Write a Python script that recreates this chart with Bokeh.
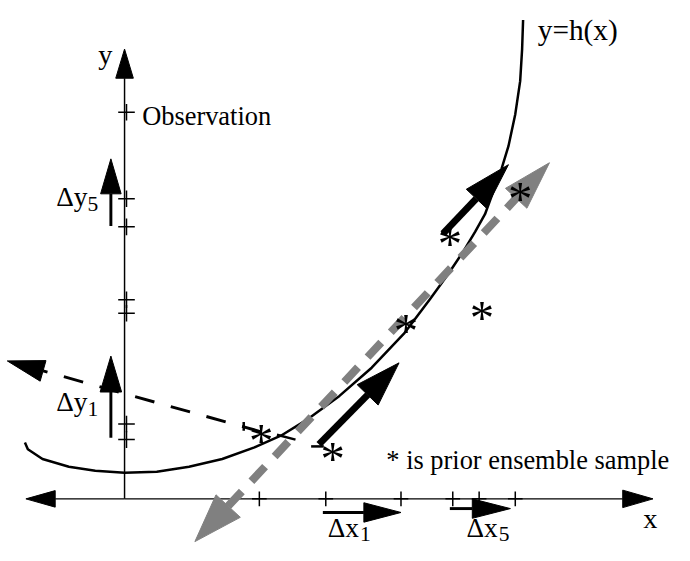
import math
from bokeh.plotting import figure
from bokeh.models import Range1d
from bokeh.core.properties import value
from bokeh.embed import file_html
from bokeh.resources import INLINE

# ---- data (origin at the axes crossing, 1 unit = 1 pixel of the reference) ----
# the curve y = h(x)
curve_x = [-102, -99, -84, -57, -30, 0, 33, 66, 100, 133, 160, 186, 220, 253, 286,
           313, 331, 347, 359, 369, 377, 386, 393, 400, 405, 407, 408]
curve_y = [58, 51, 41, 33, 29, 27, 28, 33, 41, 53, 65, 81, 106, 135, 170,
           206, 231, 255, 275, 293, 315, 340, 363, 396, 430, 463, 493]

# prior ensemble samples (asterisks)
ens_x = [140, 213, 288, 366, 405, 333]
ens_y = [83, 65, 196, 210, 332, 286]

# tick marks ("+") on the axes
xtick_pos = [138, 206, 283, 336, 363, 400]
ytick_pos = [398, 309, 280, 205, 191, 77, 61]

# short marks at the ends of the ensemble lines
mark_x0 = [122, 156, 191]
mark_y0 = [79, 66, 54]
mark_x1 = [122, 175, 204]
mark_y1 = [70, 61, 54]

# axis extents
x_axis_left, x_axis_right = -101, 541
y_axis_top = 463

# arrows: tail -> tip
arrowA_tail, arrowA_tip = (199, 56), (281, 140)      # black increment arrow (lower)
arrowB_tail, arrowB_tip = (326, 273), (393, 344)     # black increment arrow (upper)
gray_lo_tip, gray_hi_tip = (72, -44), (435, 346)     # gray dashed regression line
dash_tail, dash_tip = (140, 69), (-120, 142)         # black dashed line
dy5_tail, dy5_tip = (-14, 281), (-14, 350)
dy1_tail, dy1_tip = (-14, 63), (-14, 147)
dx1_tail, dx1_tip = (203, -14), (283, -14)
dx5_tail, dx5_tip = (333, -10), (395, -10)

# labels
lab_text = ["y", "Observation", "y=h(x)", "* is prior ensemble sample", "x",
            "\u0394y", "\u0394y", "\u0394x", "\u0394x"]
lab_x = [-27, 18, 423, 268, 531, -70, -70, 208, 350]
lab_y = [457, 394, 483, 40, -20, 311, 100, -30, -30]
sub_text = ["5", "1", "1", "5"]
sub_x = [-38, -38, 241, 383]
sub_y = [304, 93, -36, -36]

FONT = value("Liberation Serif")

W_PX, H_PX = 674, 545
p = figure(width=W_PX, height=H_PX, output_backend="svg", toolbar_location=None,
           x_range=Range1d(-127, 563), y_range=Range1d(-48, 513),
           min_border=0, min_border_left=0, min_border_right=0,
           min_border_top=0, min_border_bottom=0)
p.axis.visible = False
p.grid.visible = False
p.outline_line_color = None
p.background_fill_color = "white"
p.border_fill_color = "white"

S = W_PX / 690.0  # screen px per reference px


def fs(n):
    return f"{n * S:.1f}px"


def head(tail, tip, L, W):
    sx, sy = tail
    tx, ty = tip
    dx, dy = tx - sx, ty - sy
    n = math.hypot(dx, dy)
    ux, uy = dx / n, dy / n
    bx, by = tx - L * ux, ty - L * uy
    px, py = -uy, ux
    xs = [tx, bx + W / 2 * px, bx - W / 2 * px]
    ys = [ty, by + W / 2 * py, by - W / 2 * py]
    return xs, ys, (bx, by)


def arrow(tail, tip, L, W, color="black", width=3, dash="solid"):
    hx, hy, base = head(tail, tip, L, W)
    p.line([tail[0], base[0]], [tail[1], base[1]], line_color=color, line_width=width * S,
           line_dash=dash, line_cap="butt")
    p.patch(hx, hy, fill_color=color, line_color=color, line_width=1)


# axes
arrow((0, 0), (0, y_axis_top), 30, 18, width=1.5)
arrow((0, 0), (x_axis_right, 0), 31, 18, width=1.5)
arrow((0, 0), (x_axis_left, 0), 30, 17, width=1.5)

# ticks
p.scatter([2] * len(ytick_pos), ytick_pos, marker="cross", size=17 * S, line_color="black", line_width=1.5)
p.scatter(xtick_pos, [0] * len(xtick_pos), marker="cross", size=15 * S, line_color="black", line_width=1.5)

# curve
p.line(curve_x, curve_y, line_color="black", line_width=2.5, line_join="round")

# gray dashed double arrow
lx, ly, lbase = head(gray_hi_tip, gray_lo_tip, 50, 34)
hx, hy, hbase = head(gray_lo_tip, gray_hi_tip, 50, 30)
p.line([lbase[0], hbase[0]], [lbase[1], hbase[1]], line_color="#808080", line_width=8,
       line_dash="20 14", line_cap="butt")
p.patch(lx, ly, fill_color="#808080", line_color="#808080")
p.patch(hx, hy, fill_color="#808080", line_color="#808080")

# black thick arrows
arrow(arrowA_tail, arrowA_tip, 46, 30, width=7)
arrow(arrowB_tail, arrowB_tip, 48, 28, width=7)

# black dashed arrow
arrow(dash_tail, dash_tip, 38, 22, width=3, dash="20 17")

# small marks
p.segment(mark_x0, mark_y0, mark_x1, mark_y1, line_color="black", line_width=2.5)

# delta arrows
arrow(dy5_tail, dy5_tip, 36, 21, width=3)
arrow(dy1_tail, dy1_tip, 37, 22, width=3)
arrow(dx1_tail, dx1_tip, 38, 20, width=3)
arrow(dx5_tail, dx5_tip, 39, 20, width=3)

# asterisks (prior ensemble)
p.text(ens_x, ens_y, text=["*"] * len(ens_x), text_font=FONT, text_font_size=fs(50),
       text_align="center", text_baseline="alphabetic", y_offset=23, text_color="black")

# labels
lab_size = [29, 27, 30, 27, 29, 28, 28, 28, 28]
for t, x, y, s in zip(lab_text, lab_x, lab_y, lab_size):
    p.text([x], [y], text=[t], text_font=FONT, text_font_size=fs(s), text_align="left",
           text_baseline="alphabetic", text_color="black")

p.text(sub_x, sub_y, text=sub_text, text_font=FONT, text_font_size=fs(22),
       text_align="left", text_baseline="alphabetic", text_color="black")

open("out.html", "w").write(file_html(p, INLINE))
